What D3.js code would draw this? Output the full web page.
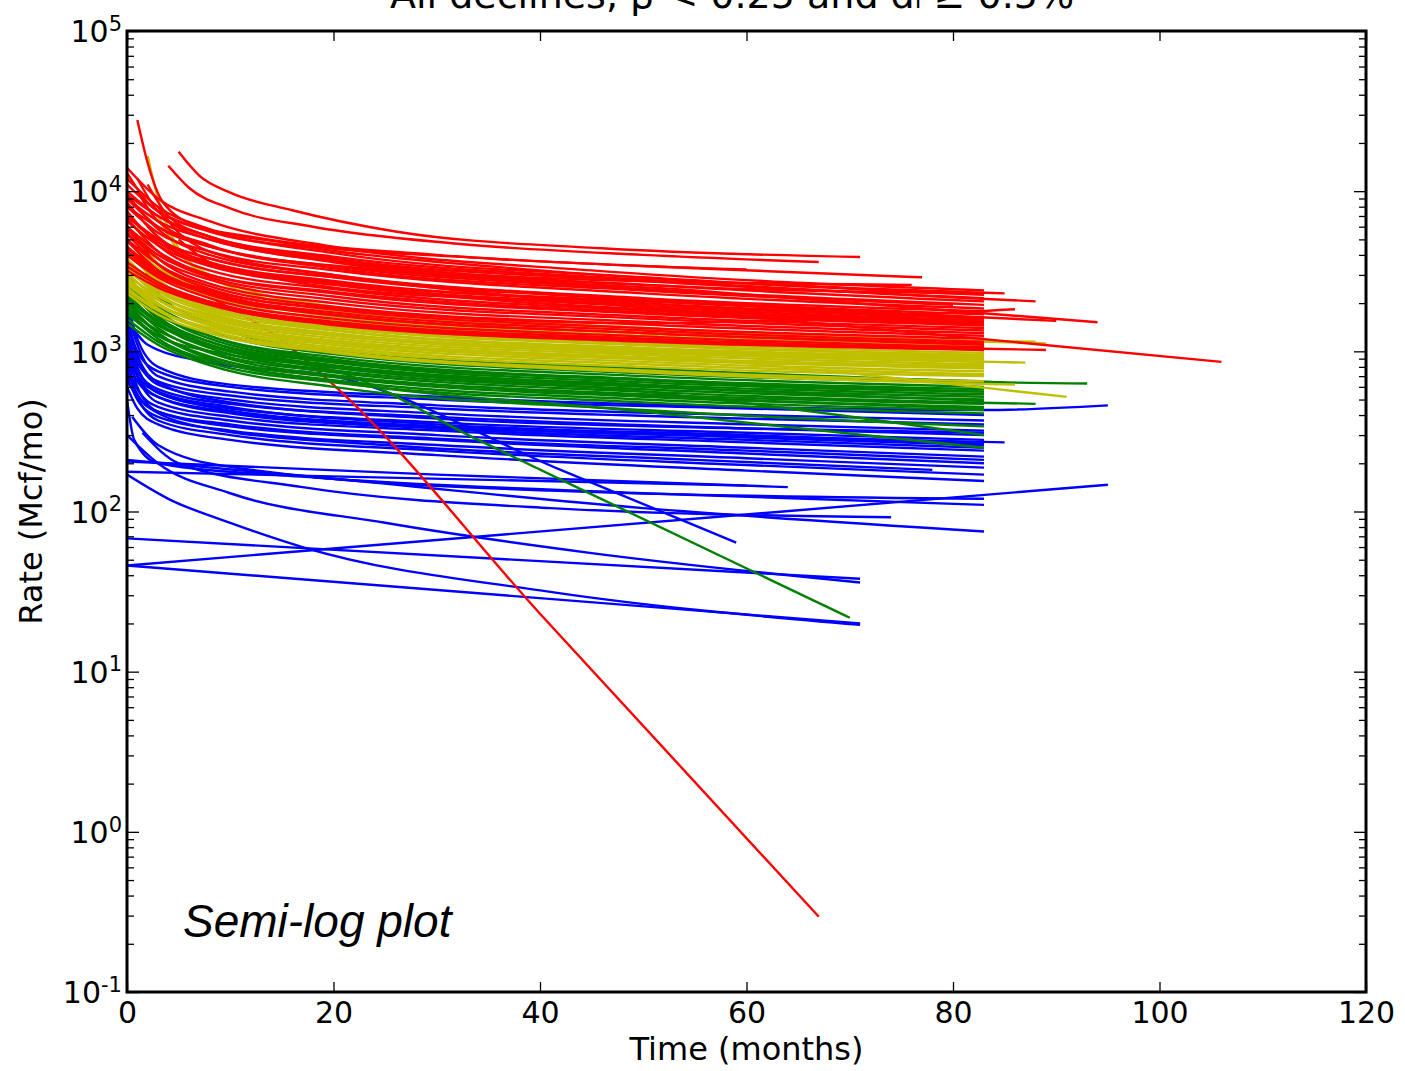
<!DOCTYPE html>
<html lang="en">
  <head>
    <meta charset="utf-8">
    <title>Decline curves, semi-log</title>
    <style>
      body { margin: 0; background: #fff; }
      .axis text { font-family: "DejaVu Sans", sans-serif; font-size: 30px; fill: #000; }
      .axis line { stroke: #000; stroke-width: 1.3px; }
      .well { fill: none; stroke-width: 2.4px; }
    </style>
  </head>
  <body>
    <svg id="wrapper" width="1405" height="1071"></svg>

    <script src="https://cdnjs.cloudflare.com/ajax/libs/d3/7.8.5/d3.min.js"></script>
    <script>
    // plot box, pixels
    const boxLeft = 127, boxRight = 1366, boxTop = 31, boxBottom = 992;

    const colorRed = '#ff0000';
    const colorYellow = '#bfbf00';
    const colorGreen = '#008000';
    const colorBlue = '#0000ff';

    const xTicks = [0, 20, 40, 60, 80, 100, 120];
    const yExponents = [-1, 0, 1, 2, 3, 4, 5];

    // each well: [time (months), rate (Mcf/mo)] pairs
    const redWells = [
      [[5,17600],[7,12500],[10,9800],[16,7600],[26,5600],[46,4400],[71,3880]],
      [[4,14400],[6,10500],[10,7800],[18,6000],[32,4700],[50,4000],[67,3610]],
      [[1,27800],[2,15000],[3.5,8500],[7,6000],[15,4800],[35,3800],[60,3240]],
      [[0,13000],[2,8500],[5,6500],[12,5200],[30,4000],[55,3300],[77,2900]],
      [[0,11000],[3,7500],[8,5600],[18,4400],[40,3200],[85,2300]],
      [[0,9500],[3,7000],[8,5200],[20,3900],[50,2800],[88,2050]],
      [[0,8000],[3,6000],[8,4500],[25,3200],[55,2400],[94,1520]],
      [[0,7000],[3,5000],[8,3800],[25,2700],[60,1650],[106,860]],
      [[0,14000],[3,9000],[8,6500],[20,4500],[45,3200],[83,2400]],
      [[0,12000],[3,8000],[8,5800],[20,4100],[50,2900],[83,2250]],
      [[0,10000],[3,7000],[8,5200],[20,3800],[50,2750],[83,2150]],
      [[1,12000],[3,7500],[8,5000],[25,3400],[55,2500],[83,2050]],
      [[0,9000],[3,6000],[8,4500],[20,3400],[50,2450],[83,1950]],
      [[0,8000],[3,5500],[8,4200],[20,3200],[50,2300],[83,1850]],
      [[0,9500],[3,5800],[8,4000],[20,3000],[50,2150],[83,1780]],
      [[0,7000],[3,5000],[8,3800],[20,2900],[50,2100],[83,1700]],
      [[0,8500],[3,5200],[8,3600],[20,2750],[50,2000],[83,1620]],
      [[0,6500],[3,4600],[8,3400],[20,2600],[50,1900],[83,1560]],
      [[0,7500],[3,4600],[8,3200],[20,2450],[50,1800],[83,1500]],
      [[0,6000],[3,4200],[8,3000],[20,2300],[50,1720],[83,1450]],
      [[0,6800],[3,4200],[8,2900],[20,2200],[50,1650],[83,1400]],
      [[0,5500],[3,3800],[8,2800],[20,2100],[50,1600],[83,1350]],
      [[0,6000],[3,3800],[8,2650],[20,2000],[50,1530],[83,1300]],
      [[0,5000],[3,3500],[8,2550],[20,1900],[50,1470],[83,1250]],
      [[0,5400],[3,3500],[8,2450],[20,1820],[50,1400],[83,1200]],
      [[0,4500],[3,3200],[8,2350],[20,1750],[50,1350],[83,1150]],
      [[0,4900],[3,3200],[8,2250],[20,1680],[50,1300],[83,1100]],
      [[0,4000],[3,2900],[8,2150],[20,1600],[50,1240],[83,1060]],
      [[0,3600],[3,2700],[8,2050],[20,1530],[50,1200],[89,1020]],
      [[0,3200],[3,2500],[8,1950],[20,1460],[50,1150],[83,1020]],
      [[0,4200],[3,3000],[8,2300],[20,1700],[50,1300],[83,1120]],
      [[0,5800],[3,4000],[8,3000],[20,2350],[50,1750],[83,1480]],
      [[0,7000],[3,4800],[8,3500],[20,2650],[50,1950],[83,1600]],
      [[0,3400],[3,2600],[8,2000],[20,1500],[50,1170],[83,1040]],
      [[2,11000],[4,7000],[8,5200],[20,3700],[45,2800],[76,2600]],
      [[0,9000],[3,6500],[8,5000],[20,3600],[50,2600],[83,2300]],
      [[3,8000],[5,5500],[8,4200],[20,3000],[45,2200],[75,1750]],
      [[1,10000],[3,6500],[8,4600],[20,3300],[50,2400],[80,1950]],
      [[2,6000],[4,4500],[8,3500],[20,2700],[50,2050],[90,1550]],
      [[5,5000],[8,3600],[15,2800],[35,2100],[62,1700],[83,1520]],
      [[0,4400],[3,3100],[8,2400],[20,1850],[50,1500],[86,1830]]
    ];

    const yellowWells = [
      [[2,16600],[3,9000],[4.5,5000],[8,3000],[20,1900],[50,1400],[89,1120]],
      [[0,5000],[3,3300],[8,2400],[20,1650],[50,1250],[83,1080]],
      [[0,4000],[3,2900],[8,2200],[20,1580],[50,1220],[83,1050]],
      [[0,3500],[3,2600],[8,2000],[20,1520],[50,1180],[83,1020]],
      [[0,4500],[3,2800],[8,2000],[20,1460],[50,1130],[83,980]],
      [[0,3200],[3,2400],[8,1850],[20,1400],[50,1090],[83,950]],
      [[0,3800],[3,2500],[8,1800],[20,1350],[50,1050],[83,920]],
      [[0,3000],[3,2200],[8,1700],[20,1300],[50,1010],[83,890]],
      [[0,3400],[3,2300],[8,1650],[20,1250],[50,980],[83,860]],
      [[0,2800],[3,2100],[8,1600],[20,1210],[50,950],[83,830]],
      [[0,3100],[3,2100],[8,1550],[20,1170],[50,920],[83,800]],
      [[0,2600],[3,1950],[8,1500],[20,1130],[50,890],[83,780]],
      [[0,2900],[3,2000],[8,1450],[20,1100],[50,860],[83,750]],
      [[0,2400],[3,1800],[8,1400],[20,1060],[50,830],[83,720]],
      [[0,2700],[3,1850],[8,1350],[20,1030],[50,800],[83,700]],
      [[1,6000],[3,3500],[8,2400],[20,1700],[50,1300],[88,1150]],
      [[0,3600],[3,2400],[8,1750],[20,1280],[50,960],[91,520]],
      [[0,2500],[3,1800],[8,1350],[20,1000],[50,760],[83,650]],
      [[3,7000],[5,4200],[8,2900],[20,1800],[50,1350],[80,1150]],
      [[0,2300],[3,1700],[8,1300],[20,980],[50,740],[86,620]],
      [[0,4200],[3,2700],[8,1900],[20,1420],[50,1100],[83,940]],
      [[0,3300],[3,2250],[8,1680],[20,1260],[50,1000],[87,850]],
      [[0,2750],[3,1950],[8,1480],[20,1150],[50,900],[83,810]],
      [[0,3700],[3,2550],[8,1900],[20,1360],[50,1030],[83,900]]
    ];

    const greenWells = [
      [[0,3500],[3,2200],[8,1500],[20,1000],[50,760],[83,650]],
      [[0,2800],[3,1900],[8,1350],[20,960],[50,730],[93,630]],
      [[0,2400],[3,1700],[8,1250],[20,920],[50,700],[83,600]],
      [[0,3000],[3,1800],[8,1250],[20,890],[50,670],[83,580]],
      [[0,2200],[3,1550],[8,1150],[20,850],[50,640],[83,560]],
      [[0,2600],[3,1650],[8,1150],[20,820],[50,620],[83,540]],
      [[0,2000],[3,1450],[8,1080],[20,790],[50,600],[83,520]],
      [[0,2300],[3,1500],[8,1050],[20,760],[50,580],[83,500]],
      [[0,1800],[3,1350],[8,1000],[20,740],[50,560],[88,470]],
      [[0,2100],[3,1400],[8,980],[20,710],[50,540],[83,470]],
      [[0,1700],[3,1250],[8,930],[20,690],[50,520],[83,450]],
      [[0,1900],[3,1300],[8,900],[20,660],[50,500],[83,430]],
      [[0,1600],[3,1150],[8,850],[20,640],[50,480],[83,410]],
      [[1,4500],[3,2300],[8,1500],[20,1000],[50,780],[85,640]],
      [[0,2500],[3,1600],[8,1100],[20,800],[50,560],[83,300]],
      [[0,2000],[3,1300],[8,900],[20,650],[50,420],[83,250]],
      [[0,1500],[3,1100],[8,820],[20,600],[50,430],[83,340]],
      [[0,2700],[3,1750],[8,1200],[20,870],[50,660],[83,560]],
      [[0,1750],[3,1200],[8,880],[20,700],[50,530],[83,440]],
      [[0,2150],[3,1500],[8,1100],[20,810],[50,610],[83,490]]
    ];

    const blueWells = [
      [[0,2000],[1,1200],[3,800],[10,620],[30,520],[60,450],[83,430],[95,460]],
      [[0,1500],[1,1000],[3,750],[10,600],[30,500],[60,440],[83,400]],
      [[0,1800],[1,1100],[3,700],[10,560],[30,460],[60,400],[83,370]],
      [[0,1200],[1,850],[3,650],[10,530],[30,440],[60,380],[83,350]],
      [[0,1600],[1,900],[3,620],[10,500],[30,410],[60,350],[83,320]],
      [[0,1000],[1,750],[3,580],[10,470],[30,390],[60,330],[83,300]],
      [[0,1400],[1,800],[3,550],[10,440],[30,360],[60,310],[83,280]],
      [[0,900],[1,650],[3,520],[10,420],[30,340],[60,290],[83,260]],
      [[0,1300],[1,700],[3,480],[10,390],[30,320],[60,270],[83,240]],
      [[0,800],[1,580],[3,450],[10,370],[30,300],[60,250],[83,220]],
      [[0,1100],[1,600],[3,420],[10,340],[30,280],[60,230],[83,200]],
      [[0,700],[1,500],[3,390],[10,320],[30,260],[60,215],[83,188]],
      [[0,950],[1,520],[3,370],[10,300],[30,240],[60,195],[83,170]],
      [[0,600],[1,440],[3,350],[10,280],[30,225],[60,180],[83,155]],
      [[0,900],[2,600],[8,450],[25,350],[55,300],[85,270]],
      [[0,650],[2,450],[8,330],[25,260],[55,210],[78,182]],
      [[0,500],[0.7,280],[3,200],[17,165],[50,130],[83,110]],
      [[0.5,390],[3,260],[10,190],[41,135],[83,120]],
      [[1.5,310],[5,200],[17,142],[41,105],[74,92]],
      [[0,210],[20,160],[50,105],[83,75]],
      [[0,205],[30,170],[64,142]],
      [[0,177],[60,145]],
      [[0,300],[3,200],[10,130],[25,85],[45,55],[71,36]],
      [[0,170],[4,120],[10,85],[17,60],[41,31.5],[71,19.6]],
      [[0,68],[71,38]],
      [[0,46],[71,20]],
      [[0,46],[95,147]],
      [[0,1700],[1,950],[3,640],[10,480],[30,380],[60,330],[83,310]],
      [[0,1100],[1,700],[3,520],[10,410],[30,330],[60,280],[83,250]],
      [[0,1250],[1,780],[3,560],[10,450],[30,350],[60,300],[83,265]],
      [[0,750],[1,540],[3,420],[10,350],[30,285],[60,240],[83,210]]
    ];

    // single steep declines that leave the bands
    const redSteep = [[0,6000],[3,3500],[8,2200],[14,1300],[20,617],[40,23],[67,0.295]];
    const greenSteep = [[0,1800],[3,1250],[10,950],[20,760],[34,280],[45,128],[70,21.7]];
    const blueSteep = [[0,1600],[2,1100],[8,850],[20,700],[42,182],[59,64]];

    let svg = d3.select('#wrapper');

    let x = d3.scaleLinear().domain([0, 120]).range([boxLeft, boxRight]);
    let y = d3.scaleLog().domain([0.1, 1e5]).range([boxBottom, boxTop]);

    svg.append('clipPath').attr('id', 'plot-clip')
      .append('rect')
      .attr('x', boxLeft).attr('y', boxTop)
      .attr('width', boxRight - boxLeft).attr('height', boxBottom - boxTop);

    let plot = svg.append('g').attr('clip-path', 'url(#plot-clip)');

    let valueLine = d3.line()
      .x(function(d) { return x(d[0]); })
      .y(function(d) { return y(d[1]); })
      .curve(d3.curveMonotoneX);

    function drawWells(wells, color) {
      plot.append('g').selectAll('path')
        .data(wells)
        .join('path')
        .attr('class', 'well')
        .attr('stroke', color)
        .attr('d', valueLine);
    }

    drawWells(blueWells, colorBlue);
    drawWells([redSteep], colorRed);
    drawWells([blueSteep], colorBlue);
    drawWells(greenWells, colorGreen);
    drawWells([greenSteep], colorGreen);
    drawWells(yellowWells, colorYellow);
    drawWells(redWells, colorRed);

    // axes, ticks pointing inward on all four sides
    let majors = yExponents.map(function(e) { return Math.pow(10, e); });
    let minors = y.ticks().filter(function(v) {
      return Math.abs(Math.log10(v) - Math.round(Math.log10(v))) > 1e-6;
    });

    svg.append('g')
      .attr('class', 'axis axis-x')
      .attr('transform', 'translate(0,' + boxBottom + ')')
      .call(d3.axisBottom(x).tickValues(xTicks).tickSize(-10).tickSizeOuter(0).tickPadding(10).tickFormat(d3.format('d')))
      .call(function(g) { g.select('.domain').remove(); });

    svg.append('g')
      .attr('class', 'axis axis-x-top')
      .attr('transform', 'translate(0,' + boxTop + ')')
      .call(d3.axisTop(x).tickValues(xTicks).tickSize(-10).tickSizeOuter(0).tickFormat(''))
      .call(function(g) { g.select('.domain').remove(); });

    let yLeft = svg.append('g')
      .attr('class', 'axis axis-y')
      .attr('transform', 'translate(' + boxLeft + ',0)')
      .call(d3.axisLeft(y).tickValues(majors).tickSize(-12).tickSizeOuter(0).tickFormat(''))
      .call(function(g) { g.select('.domain').remove(); });

    yLeft.selectAll('.tick').append('text')
      .attr('x', -5)
      .attr('dy', '0.36em')
      .attr('text-anchor', 'end')
      .each(function(d) {
        let t = d3.select(this);
        t.append('tspan').text('10');
        t.append('tspan')
          .attr('dy', '-0.55em')
          .style('font-size', '21px')
          .text(String(Math.round(Math.log10(d))));
      });

    svg.append('g')
      .attr('class', 'axis axis-y-minor')
      .attr('transform', 'translate(' + boxLeft + ',0)')
      .call(d3.axisLeft(y).tickValues(minors).tickSize(-7).tickSizeOuter(0).tickFormat(''))
      .call(function(g) { g.select('.domain').remove(); });

    svg.append('g')
      .attr('class', 'axis axis-y-right')
      .attr('transform', 'translate(' + boxRight + ',0)')
      .call(d3.axisRight(y).tickValues(majors).tickSize(-12).tickSizeOuter(0).tickFormat(''))
      .call(function(g) { g.select('.domain').remove(); });

    svg.append('g')
      .attr('class', 'axis axis-y-right-minor')
      .attr('transform', 'translate(' + boxRight + ',0)')
      .call(d3.axisRight(y).tickValues(minors).tickSize(-7).tickSizeOuter(0).tickFormat(''))
      .call(function(g) { g.select('.domain').remove(); });

    // frame
    svg.append('rect')
      .attr('x', boxLeft).attr('y', boxTop)
      .attr('width', boxRight - boxLeft).attr('height', boxBottom - boxTop)
      .attr('fill', 'none')
      .attr('stroke', '#000')
      .attr('stroke-width', 3);

    // labels
    svg.append('text')
      .attr('x', (boxLeft + boxRight) / 2)
      .attr('y', 1060)
      .attr('text-anchor', 'middle')
      .style('font-family', '"DejaVu Sans", sans-serif')
      .style('font-size', '32px')
      .text('Time (months)');

    svg.append('text')
      .attr('transform', 'translate(42,' + ((boxTop + boxBottom) / 2) + ') rotate(-90)')
      .attr('text-anchor', 'middle')
      .style('font-family', '"DejaVu Sans", sans-serif')
      .style('font-size', '32px')
      .text('Rate (Mcf/mo)');

    // title, cut off by the top edge of the picture as in the original
    svg.append('text')
      .attr('x', 732)
      .attr('y', 8)
      .attr('text-anchor', 'middle')
      .style('font-family', '"DejaVu Sans", sans-serif')
      .style('font-size', '38px')
      .text('All declines, \u03b2 < 0.25 and d\u1d62 \u2265 0.5%');

    svg.append('text')
      .attr('x', 183)
      .attr('y', 937)
      .style('font-family', '"Liberation Sans", Arial, sans-serif')
      .style('font-style', 'italic')
      .style('font-size', '46px')
      .text('Semi-log plot');
    </script>
  </body>
</html>
